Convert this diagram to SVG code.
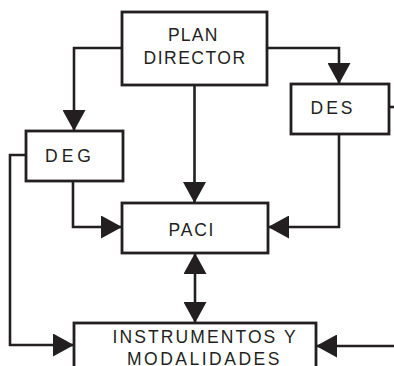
<svg xmlns="http://www.w3.org/2000/svg" width="394" height="366" viewBox="0 0 394 366">
<style>
.box{fill:#fff;stroke:#231f20;stroke-width:2.8}
.lbl{font-family:"Liberation Sans",Arial,sans-serif;font-size:17.5px;fill:#231f20}
.con{fill:none;stroke:#231f20;stroke-width:2.6}
</style>
<defs>
<marker id="ah" markerUnits="userSpaceOnUse" markerWidth="21" markerHeight="23" viewBox="0 0 21 23" refX="21" refY="11.5" orient="auto-start-reverse">
<path d="M0,0 L21,11.5 L0,23 Z" fill="#231f20"/>
</marker>
</defs>
<rect width="394" height="366" fill="#fff"/>
<g id="connectors">
<path class="con" d="M122,48 H74 V131" marker-end="url(#ah)"/>
<path class="con" d="M267,48 H339 V84" marker-end="url(#ah)"/>
<path class="con" d="M194.5,85 V203" marker-end="url(#ah)"/>
<path class="con" d="M73,181 V227 H122" marker-end="url(#ah)"/>
<path class="con" d="M339,134 V227 H268" marker-end="url(#ah)"/>
<path class="con" d="M26,155 H10 V345 H74" marker-end="url(#ah)"/>
<path class="con" d="M195,253 V323" marker-start="url(#ah)" marker-end="url(#ah)"/>
<path class="con" d="M389,107 H394"/>
<path class="con" d="M394,346 H316" marker-end="url(#ah)"/>
</g>
<g id="plan-director">
<rect class="box" x="122" y="12" width="145" height="73"/>
<text class="lbl" x="168" y="41" letter-spacing="1.2">PLAN</text>
<text class="lbl" x="143.5" y="64" letter-spacing="1.5">DIRECTOR</text>
</g>
<g id="deg">
<rect class="box" x="26" y="131" width="97" height="50"/>
<text class="lbl" x="45" y="161.5" letter-spacing="4">DEG</text>
</g>
<g id="des">
<rect class="box" x="291" y="84" width="98" height="50"/>
<text class="lbl" x="310.5" y="113.5" letter-spacing="3">DES</text>
</g>
<g id="paci">
<rect class="box" x="122" y="203" width="146" height="50"/>
<text class="lbl" x="168.5" y="236" letter-spacing="1.8">PACI</text>
</g>
<g id="instrumentos">
<rect class="box" x="74" y="323" width="242" height="60"/>
<text class="lbl" x="112.5" y="343" letter-spacing="2.1">INSTRUMENTOS Y</text>
<text class="lbl" x="127" y="364.5" letter-spacing="2.5">MODALIDADES</text>
</g>
</svg>
